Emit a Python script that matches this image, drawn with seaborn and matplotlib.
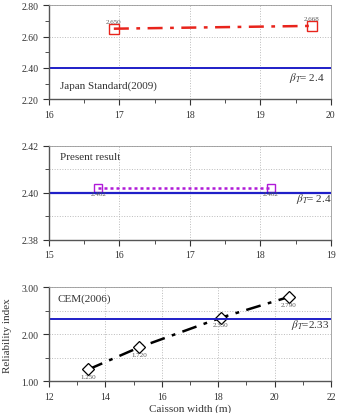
import matplotlib
matplotlib.use("Agg")
import matplotlib.pyplot as plt
import seaborn as sns
import pandas as pd

# data
jp_width = [16.92, 19.73]
jp_beta = [2.650, 2.668]
pr_width = [15.70, 18.15]
pr_beta = [2.402, 2.402]
cem_width = [13.4, 15.2, 18.1, 20.5]
cem_beta = [1.250, 1.720, 2.350, 2.790]
target_jp = 2.4
target_pr = 2.4
target_cem = 2.33

sns.set_style("ticks")
plt.rcParams['font.family'] = ['Liberation Serif', 'DejaVu Serif']
plt.rcParams['mathtext.fontset'] = 'stix'

fig = plt.figure(figsize=(3.38, 4.14), dpi=100)
ax1 = fig.add_axes([0.145, 0.758, 0.834, 0.227])
ax2 = fig.add_axes([0.145, 0.418, 0.834, 0.227])
ax3 = fig.add_axes([0.145, 0.077, 0.834, 0.227])


def style(ax, xlim, xticks, xminor, ylim, yticks, yminor):
    ax.set_xlim(*xlim)
    ax.set_ylim(*ylim)
    ax.set_xticks(xticks)
    ax.set_xticks(xminor, minor=True)
    ax.set_yticks(yticks)
    ax.set_yticks(yminor, minor=True)
    ax.grid(True, which="major", linestyle=":", color="#bbbbbb", linewidth=0.7)
    for s in ax.spines.values():
        s.set_color("#999999")
        s.set_linewidth(0.6)
    for s in ("left", "bottom"):
        ax.spines[s].set_color("#555555")
        ax.spines[s].set_linewidth(1.0)
    ax.tick_params(which="both", direction="out", labelsize=7, colors="#333333")
    ax.tick_params(which="major", length=4)
    ax.tick_params(which="minor", length=3)
    ax.set_xlabel("")
    ax.set_ylabel("")
    ax.yaxis.set_major_formatter(matplotlib.ticker.FormatStrFormatter("%.2f"))


# --- Japan Standard ---
df1 = pd.DataFrame({"w": jp_width, "b": jp_beta})
sns.lineplot(data=df1, x="w", y="b", ax=ax1, color="#e8241c", linewidth=1.8,
             linestyle=(0, (6, 3, 1.5, 3)), marker="s", markersize=7,
             markerfacecolor="none", markeredgecolor="#e8241c", markeredgewidth=1.0)
ax1.axhline(target_jp, color="#1f1fc8", linewidth=1.4)
for x, y in zip(jp_width, jp_beta):
    ax1.text(x, y + 0.03, f"{y:.3f}", ha="center", va="bottom", fontsize=5, color="#555555")
ax1.text(16.15, 2.27, "Japan Standard(2009)", fontsize=8, color="#333333")
ax1.text(19.4, 2.32, r"$\beta_T$= 2.4", fontsize=8, color="#333333")
style(ax1, (16, 20), [16, 17, 18, 19, 20], [16.5, 17.5, 18.5, 19.5],
      (2.2, 2.8), [2.2, 2.4, 2.6, 2.8], [2.3, 2.5, 2.7])

# --- Present result ---
df2 = pd.DataFrame({"w": pr_width, "b": pr_beta})
sns.lineplot(data=df2, x="w", y="b", ax=ax2, color="#b01ad8", linewidth=1.8,
             linestyle=(0, (1.2, 1.2)), marker="s", markersize=6,
             markerfacecolor="none", markeredgecolor="#b01ad8", markeredgewidth=1.0)
ax2.axhline(target_pr, color="#1f1fc8", linewidth=1.6)
for x, y in zip(pr_width, pr_beta):
    ax2.text(x, y - 0.0012, f"{y:.3f}", ha="center", va="top", fontsize=5, color="#555555")
ax2.text(15.15, 2.4145, "Present result", fontsize=8, color="#333333")
ax2.text(18.5, 2.3965, r"$\beta_T$= 2.4", fontsize=8, color="#333333")
style(ax2, (15, 19), [15, 16, 17, 18, 19], [15.5, 16.5, 17.5, 18.5],
      (2.38, 2.42), [2.38, 2.40, 2.42], [2.39, 2.41])
ax2.grid(True, which="minor", axis="y", linestyle=":", color="#bbbbbb", linewidth=0.7)

# --- CEM ---
df3 = pd.DataFrame({"w": cem_width, "b": cem_beta})
sns.lineplot(data=df3, x="w", y="b", ax=ax3, color="black", linewidth=1.8,
             linestyle=(0, (6, 3, 1.5, 3)), marker="D", markersize=6,
             markerfacecolor="white", markeredgecolor="black", markeredgewidth=0.9)
ax3.axhline(target_cem, color="#1f1fc8", linewidth=1.4)
for x, y in zip(cem_width, cem_beta):
    ax3.text(x, y - 0.1, f"{y:.3f}", ha="center", va="top", fontsize=5, color="#555555")
ax3.text(12.3, 2.7, "CEM(2006)", fontsize=8, color="#333333")
ax3.text(20.6, 2.16, r"$\beta_T$=2.33", fontsize=8, color="#333333")
style(ax3, (12, 22), [12, 14, 16, 18, 20, 22], [13, 15, 17, 19, 21],
      (1.0, 3.0), [1.0, 2.0, 3.0], [1.5, 2.5])
ax3.grid(True, which="minor", axis="y", linestyle=":", color="#bbbbbb", linewidth=0.7)
ax3.set_xlabel("Caisson width (m)", fontsize=8, labelpad=2, color="#333333")
ax3.set_ylabel("Reliability index", fontsize=8, labelpad=7, color="#333333")

fig.savefig("out.png", dpi=100)
